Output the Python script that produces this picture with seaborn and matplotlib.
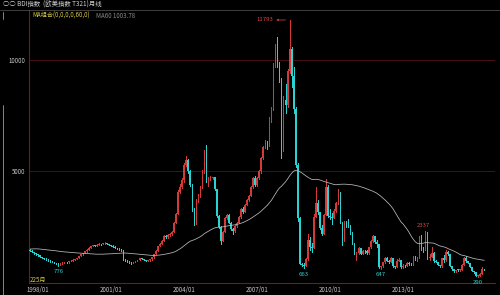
import numpy as np
import pandas as pd
import matplotlib
matplotlib.use("Agg")
import matplotlib.pyplot as plt
from matplotlib.lines import Line2D
import seaborn as sns

# ---------------- data (BDI monthly, 1997/09 - 2016/05) ----------------
start_month = "1997-09"
n_months = 225

# closes before the chart window (1992/10 - 1997/08), only used for MA60
pre_close = [1050, 1150, 1250,
             1400, 1600, 1750, 1800, 1700, 1550, 1500, 1480, 1550, 1650, 1700, 1600,
             1450, 1420, 1480, 1500, 1450, 1400, 1450, 1550, 1600, 1650, 1750, 1800,
             1850, 1900, 1950, 2050, 2100, 1950, 1800, 1700, 1650, 1600, 1550, 1500,
             1400, 1250, 1150, 1050, 1000, 1000, 1050, 1150, 1250, 1350, 1450, 1500,
             1500, 1500, 1550, 1600, 1650, 1600, 1550, 1500]

close = [1450, 1400, 1330, 1290,
         1240, 1170, 1130, 1090, 1060, 1010, 980, 950, 900, 870, 830, 860,
         900, 940, 920, 980, 1000, 1040, 1080, 1130, 1200, 1280, 1350, 1420,
         1500, 1580, 1650, 1700, 1680, 1720, 1760, 1740, 1780, 1800, 1760, 1700,
         1680, 1630, 1580, 1550, 1500, 1460, 1050, 1000, 960, 920, 900, 940,
         980, 1020, 1100, 1080, 1040, 1000, 1010, 1060, 1150, 1300, 1450, 1650,
         1750, 1900, 2100, 2050, 2150, 2180, 2300, 2700, 3100, 4100, 4300, 4600,
         5300, 5500, 5000, 4400, 3300, 2700, 3700, 3900, 4300, 5000, 5900, 4600,
         4650, 4700, 4750, 4200, 3000, 2500, 1900, 2300, 2900, 3050, 2700, 2400,
         2350, 2550, 2700, 2950, 3300, 3200, 3500, 3700, 3900, 4300, 4700, 4400,
         4700, 5000, 5600, 6100, 6300, 6200, 7400, 7800, 9800, 10500, 9800, 9100,
         6100, 8200, 8000, 9500, 10500, 9300, 7800, 5300, 2900, 850, 820, 774,
         1070, 1950, 1600, 1550, 2950, 3600, 3200, 2450, 2200, 3050, 4300, 3005,
         2950, 2900, 3250, 3600, 4050, 2750, 1900, 2700, 2650, 2550, 2300, 1773,
         1300, 1350, 1550, 1320, 1450, 1420, 1350, 1600, 1900, 2100, 1850, 1738,
         700, 740, 920, 1100, 1000, 960, 1100, 740, 700, 1000, 1050, 700,
         780, 740, 900, 850, 830, 1100, 1080, 1120, 2000, 1600, 1500, 2277,
         1100, 1180, 1350, 1000, 950, 800, 750, 1100, 1050, 1400, 1300, 780,
         620, 520, 590, 585, 600, 800, 1100, 1000, 890, 700, 550, 480,
         330, 335, 410, 630, 600]

high = [1520, 1460, 1410, 1340,
        1300, 1250, 1180, 1140, 1100, 1070, 1020, 990, 960, 910, 880, 880,
        920, 960, 950, 990, 1020, 1060, 1090, 1140, 1210, 1290, 1360, 1440,
        1520, 1600, 1670, 1720, 1720, 1740, 1780, 1770, 1800, 1830, 1810, 1770,
        1720, 1690, 1640, 1590, 1560, 1510, 1470, 1070, 1020, 970, 930, 950,
        990, 1040, 1110, 1120, 1090, 1050, 1030, 1070, 1160, 1310, 1460, 1680,
        1800, 1950, 2150, 2140, 2180, 2220, 2320, 2720, 3130, 4150, 4420, 4700,
        5400, 5681, 5550, 5050, 4450, 3350, 3750, 3980, 4350, 5080, 5950, 6208,
        4750, 4800, 4767, 4750, 4220, 3050, 2550, 2350, 2950, 3100, 3080, 2720,
        2450, 2600, 2750, 3000, 3350, 3420, 3550, 3750, 3950, 4350, 4750, 4780,
        4750, 5050, 5650, 6150, 6400, 6350, 7450, 7900, 9850, 10700, 11039, 9900,
        9200, 8400, 8900, 9600, 11793, 10600, 9700, 7900, 5400, 2950, 880, 900,
        1100, 2200, 2050, 1800, 3100, 4291, 3700, 3200, 2600, 3100, 4661, 4400,
        3300, 3150, 3300, 3650, 4209, 4100, 2750, 2800, 2800, 2850, 2600, 2300,
        1780, 1400, 1600, 1560, 1480, 1480, 1460, 1620, 1950, 2173, 2100, 1950,
        1740, 760, 930, 1170, 1160, 1040, 1170, 1100, 750, 1080, 1100, 1050,
        850, 820, 920, 950, 900, 1200, 1200, 1150, 2100, 2150, 1600, 2337,
        2200, 1300, 1600, 1400, 1050, 960, 820, 1120, 1250, 1480, 1450, 1300,
        780, 620, 590, 610, 630, 840, 1160, 1222, 1000, 900, 700, 560,
        480, 340, 450, 720, 630]

low = [1430, 1380, 1310, 1270,
       1220, 1150, 1110, 1070, 1040, 990, 960, 920, 880, 850, 776, 820,
       850, 890, 900, 910, 970, 990, 1030, 1070, 1120, 1190, 1270, 1340,
       1410, 1490, 1570, 1640, 1660, 1670, 1710, 1720, 1730, 1770, 1750, 1690,
       1660, 1610, 1570, 1530, 1480, 1440, 1040, 990, 940, 880, 870, 890,
       930, 970, 1010, 1070, 1030, 990, 980, 1000, 1050, 1140, 1290, 1440,
       1640, 1740, 1890, 2020, 2030, 2120, 2160, 2290, 2680, 3080, 4030, 4250,
       4550, 5250, 4950, 4350, 3250, 2600, 2650, 3650, 3850, 4250, 4950, 4550,
       4350, 4600, 4650, 4150, 2950, 2450, 1747, 1880, 2280, 2860, 2680, 2380,
       2200, 2300, 2530, 2680, 2930, 3150, 3180, 3480, 3680, 3880, 4280, 4350,
       4350, 4650, 4950, 5550, 6050, 6000, 6150, 7200, 7750, 9700, 9700, 9000,
       5615, 5900, 7600, 7900, 9400, 8800, 7600, 5200, 2800, 840, 760, 663,
       770, 1050, 1500, 1400, 1550, 2950, 3100, 2400, 2150, 2200, 3050, 2950,
       2850, 2650, 2900, 3200, 3550, 2700, 1700, 1900, 2500, 2500, 2200, 1770,
       1280, 1043, 1300, 1300, 1280, 1350, 1300, 1300, 1580, 1850, 1780, 1600,
       690, 647, 700, 900, 970, 880, 950, 700, 661, 700, 990, 690,
       690, 720, 740, 820, 800, 820, 1050, 1000, 1100, 1500, 1400, 1500,
       1080, 1050, 1180, 950, 920, 800, 723, 730, 960, 1000, 1250, 760,
       600, 509, 509, 560, 560, 590, 790, 960, 880, 700, 540, 470,
       320, 290, 320, 410, 580]

x_tick_labels = ["1998/01", "2001/01", "2004/01", "2007/01", "2010/01", "2013/01"]
y_ticks = [5000, 10000]
extreme_labels = [("776", "low"), ("11793", "high"), ("663", "low"),
                  ("647", "low"), ("2337", "high"), ("290", "low")]

title_text = "○○ BDI指数  (欧美指数 T321)月线"
ma_title = "MA组合(0,0,0,0,60,0)"
ma_value_text = "MA60 1003.78"
count_text = "225月"

# ---------------- build frame ----------------
months = pd.date_range(start_month, periods=n_months, freq="MS")
df = pd.DataFrame({"month": months, "close": close, "high": high, "low": low})
df["open"] = [pre_close[-1]] + close[:-1]
df["i"] = np.arange(n_months)
full = pd.Series(pre_close + close, dtype=float)
df["ma60"] = full.rolling(60).mean().iloc[len(pre_close):].to_numpy()

# ---------------- style ----------------
sns.set_theme(style="dark", rc={"axes.facecolor": "black", "figure.facecolor": "black",
                                "axes.grid": False})
plt.rcParams["font.family"] = ["Noto Sans CJK SC", "DejaVu Sans"]

UP = "#d43a3a"
DOWN = "#2bd2d2"
AXIS_RED = "#7a1818"
GRID_RED = "#4a1010"
TXT = "#c8c8c8"

W, H = 500, 295
fig = plt.figure(figsize=(W / 100, H / 100), dpi=100)
ax = fig.add_axes([29 / W, 12 / H, 466 / W, 273 / H])
ax.set_facecolor("black")

# grid lines
for v in y_ticks:
    ax.axhline(v, color=GRID_RED, lw=0.7, zorder=0)

up = df["close"] >= df["open"]
dn = ~up
bw = 0.72
for mask, col in ((up, UP), (dn, DOWN)):
    d = df[mask]
    ax.vlines(d["i"], d["low"], d["high"], color=col, lw=0.6, zorder=2, antialiased=False)
    bottom = np.minimum(d["open"], d["close"])
    height = np.maximum(np.abs(d["close"] - d["open"]), 25)
    ax.bar(d["i"], height, bottom=bottom, width=bw, color=col, lw=0, zorder=3,
           antialiased=False)

sns.lineplot(x=df["i"], y=df["ma60"], ax=ax, color="#bcbcbc", lw=0.55, zorder=4)

ax.set_xlim(-0.5, 229.3)
ax.set_ylim(0, 12240)
ax.set_xlabel("")
ax.set_ylabel("")

# ticks
tick_pos = [df.index[df["month"] == pd.Timestamp(s.replace("/", "-") + "-01")][0]
            for s in x_tick_labels]
ax.set_xticks(tick_pos)
ax.set_xticklabels(x_tick_labels, fontsize=4.4, color=TXT)
ax.set_yticks(y_ticks)
ax.set_yticklabels([str(v) for v in y_ticks], fontsize=4.4, color=TXT)
ax.tick_params(axis="both", length=0, pad=2.5)
ax.tick_params(axis="x", pad=2)

for s in ("top", "right"):
    ax.spines[s].set_visible(False)
for s in ("left", "bottom"):
    ax.spines[s].set_color(AXIS_RED)
    ax.spines[s].set_linewidth(0.8)

# extreme value labels
for txt, kind in extreme_labels:
    val = int(txt)
    col_name = "low" if kind == "low" else "high"
    i = int(df.index[df[col_name] == val][0])
    if txt == "11793":
        ax.text(i - 8.2, val, txt, color="#e04545", fontsize=4.3, ha="right", va="center")
        ax.annotate("", xy=(i - 7.9, val), xytext=(i - 0.6, val),
                    arrowprops=dict(arrowstyle="->", color="#e04545", lw=0.5,
                                    mutation_scale=3))
    elif kind == "high":
        ax.text(i - 0.8, val + 120, txt, color="#e04545", fontsize=4.3, ha="center", va="bottom")
    else:
        ax.text(i, val - 170, txt, color="#35d0d0", fontsize=4.3, ha="center", va="top")

# header texts
fig.text(3 / W, 1 - 5 / H, title_text, color="#d0d0d0", fontsize=4.6, va="center", ha="left")
fig.text(32 / W, 1 - 15.5 / H, ma_title, color="#d8c848", fontsize=4.4, va="center", ha="left")
fig.text(96 / W, 1 - 15.5 / H, ma_value_text, color="#8a8a8a", fontsize=4.4, va="center", ha="left")
fig.text(30 / W, 1 - 280 / H, count_text, color="#d8c848", fontsize=4.4, va="center", ha="left")

# frame lines of the panel
fig.add_artist(Line2D([0, 1], [1 - 10 / H, 1 - 10 / H], color="#4a4a4a", lw=0.6))
fig.add_artist(Line2D([3 / W, 3 / W], [1 - 105 / H, 0], color="#9a9a9a", lw=0.6))
fig.add_artist(Line2D([3 / W, 3 / W], [1 - 12 / H, 1 - 19 / H], color="#9a9a9a", lw=0.6))

fig.savefig("out.png", dpi=100, facecolor="black")
